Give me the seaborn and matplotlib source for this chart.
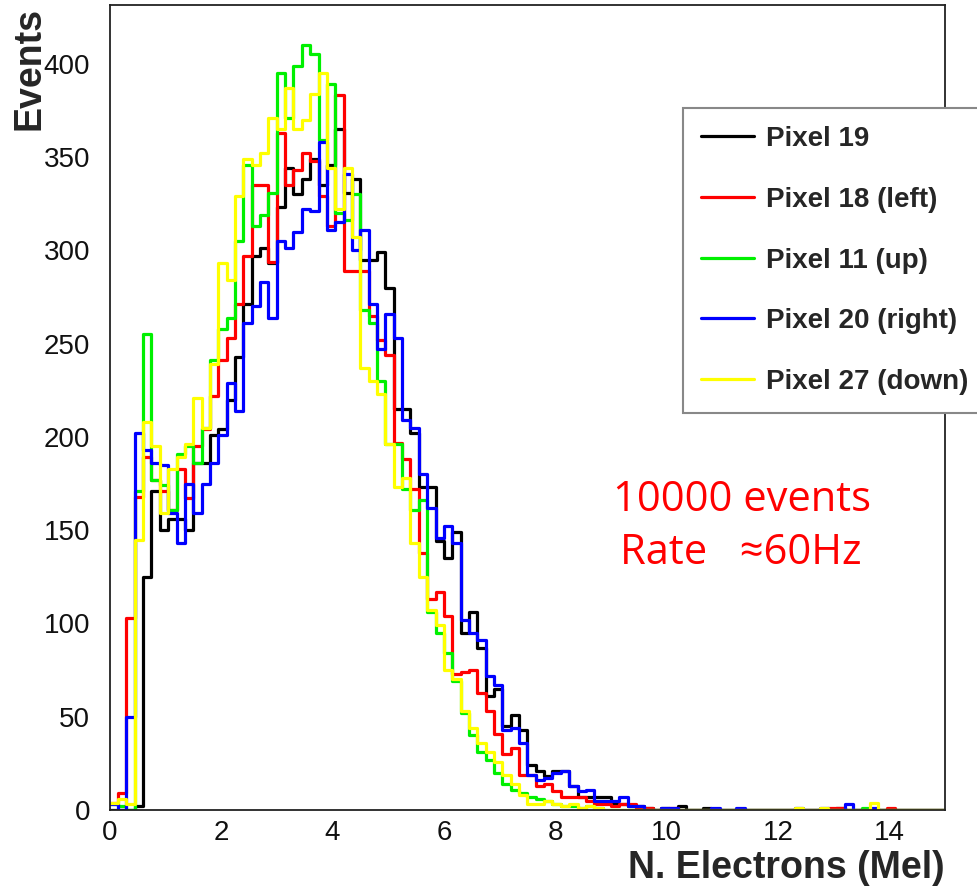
import numpy as np
import pandas as pd
import matplotlib
matplotlib.use("Agg")
import matplotlib.pyplot as plt
import seaborn as sns
from matplotlib.lines import Line2D
from matplotlib.ticker import MultipleLocator

# ---------------- data (100 bins of 0.15 Mel from 0 to 15) ----------------
bin_width = 0.15
n_bins = 100

pixel19 = [0, 0, 0, 2, 125, 171, 150, 156, 156, 150,
           186, 186, 201, 204, 220, 243, 271, 297, 301, 293,
           323, 344, 330, 338, 349, 335, 346, 365, 331, 338,
           295, 295, 299, 280, 215, 215, 202, 173, 173, 144,
           135, 149, 95, 106, 87, 61, 65, 45, 51, 43,
           24, 21, 18, 21, 21, 13, 7, 7, 7, 7,
           3, 3, 2, 2, 1, 0, 1, 0, 2, 0,
           0, 1, 0, 0, 0, 0, 0, 0, 0, 0,
           0, 0, 0, 0, 0, 0, 0, 1, 0, 0,
           0, 0, 0, 0, 0, 0, 0, 0, 0, 0]

pixel18 = [4, 9, 103, 168, 189, 177, 171, 161, 183, 167,
           195, 204, 222, 241, 253, 271, 297, 335, 335, 294,
           363, 335, 343, 352, 348, 329, 313, 383, 289, 289,
           289, 265, 252, 244, 197, 188, 172, 138, 113, 117,
           104, 73, 74, 75, 63, 53, 41, 30, 33, 19,
           19, 13, 14, 10, 7, 7, 7, 5, 3, 3,
           2, 3, 3, 1, 1, 0, 0, 1, 0, 0,
           0, 0, 0, 0, 0, 0, 0, 0, 0, 0,
           0, 0, 0, 0, 0, 0, 1, 1, 0, 0,
           0, 0, 0, 1, 0, 0, 0, 0, 0, 0]

pixel11 = [3, 2, 0, 171, 255, 177, 174, 161, 191, 195,
           186, 205, 241, 258, 264, 305, 346, 313, 319, 331,
           395, 371, 399, 410, 405, 359, 389, 320, 316, 330,
           268, 261, 230, 196, 196, 172, 161, 166, 106, 95,
           84, 69, 52, 40, 31, 27, 20, 14, 11, 9,
           7, 6, 5, 3, 2, 2, 1, 2, 1, 0,
           0, 0, 0, 0, 0, 0, 0, 0, 0, 0,
           0, 0, 0, 0, 0, 0, 0, 0, 0, 0,
           0, 0, 0, 0, 0, 0, 0, 0, 0, 0,
           1, 0, 0, 0, 0, 0, 0, 0, 0, 0]

pixel20 = [3, 0, 50, 202, 193, 186, 185, 159, 143, 175,
           159, 175, 186, 201, 229, 214, 261, 270, 283, 264,
           305, 301, 310, 322, 321, 358, 311, 315, 341, 300,
           311, 271, 247, 266, 253, 209, 205, 180, 162, 146,
           152, 143, 102, 95, 91, 72, 67, 43, 44, 36,
           19, 16, 17, 20, 21, 13, 10, 11, 5, 5,
           5, 7, 2, 2, 0, 0, 1, 1, 0, 0,
           0, 0, 1, 0, 0, 1, 0, 0, 0, 0,
           0, 0, 1, 0, 0, 1, 0, 0, 3, 0,
           0, 1, 0, 0, 0, 0, 0, 0, 0, 0]

pixel27 = [4, 6, 3, 145, 208, 195, 159, 183, 189, 196,
           221, 205, 239, 293, 284, 329, 349, 346, 352, 371,
           365, 387, 365, 370, 384, 395, 344, 322, 344, 307,
           237, 230, 223, 196, 173, 178, 143, 125, 107, 99,
           75, 70, 53, 44, 36, 31, 26, 19, 14, 8,
           3, 3, 5, 3, 2, 3, 1, 2, 1, 0,
           0, 0, 0, 0, 0, 0, 0, 0, 0, 0,
           0, 0, 0, 0, 0, 0, 0, 0, 0, 0,
           0, 0, 1, 0, 0, 1, 0, 0, 0, 0,
           0, 4, 0, 0, 0, 0, 0, 0, 0, 0]

labels = ["Pixel 19", "Pixel 18 (left)", "Pixel 11 (up)",
          "Pixel 20 (right)", "Pixel 27 (down)"]
colors = ["#000000", "#ff0000", "#00f000", "#0000ff", "#ffff00"]
y_ticks = [0, 50, 100, 150, 200, 250, 300, 350, 400]
x_ticks = [0, 2, 4, 6, 8, 10, 12, 14]

# ---------------- plotting ----------------
sns.set_style("white")
plt.rcParams["font.family"] = ["Liberation Sans", "DejaVu Sans"]

fig = plt.figure(figsize=(9.78, 8.93), dpi=100)
ax = fig.add_axes([0.1122, 0.0929, 0.8541, 0.9015])

centers = (np.arange(n_bins) + 0.5) * bin_width

for counts, color in zip([pixel19, pixel18, pixel11, pixel20, pixel27], colors):
    df = pd.DataFrame({"x": centers, "w": np.asarray(counts, dtype=float)})
    sns.histplot(data=df, x="x", weights="w", binwidth=bin_width,
                 binrange=(0, n_bins * bin_width), element="step",
                 fill=False, color=color, linewidth=2.3, ax=ax)

ax.set_xlim(0, 15)
ax.set_ylim(0, 431.5)
ax.set_xticks(x_ticks)
ax.set_yticks(y_ticks)
ax.xaxis.set_minor_locator(MultipleLocator(0.5))
ax.yaxis.set_minor_locator(MultipleLocator(10))
ax.tick_params(which="both", direction="in", top=False, right=False,
               color="#333333", width=1.2, labelsize=20, labelcolor="#111111")
ax.tick_params(which="major", length=18)
ax.tick_params(which="minor", length=9)
ax.tick_params(axis="y", pad=14)
ax.tick_params(axis="x", pad=7)
for s in ax.spines.values():
    s.set_color("#222222")
    s.set_linewidth(1.3)

ax.set_ylabel("Events", fontsize=27, fontweight="bold", loc="top")
ax.yaxis.set_label_coords(-0.074, 0.998)
ax.set_xlabel("N. Electrons (Mel)", fontsize=27, fontweight="bold", loc="right")
ax.xaxis.set_label_coords(1.0, -0.05)

handles = [Line2D([], [], color=c, lw=2.3) for c in colors]
leg = fig.legend(handles, labels, loc="upper left",
                 bbox_to_anchor=(683 / 978, 1 - 108 / 893, 0.33, 0.0), mode="expand",
                 borderaxespad=0.0,
                 frameon=True, fancybox=False, framealpha=1,
                 edgecolor="#888888", prop=dict(weight="bold", size=20),
                 handlelength=1.9, labelspacing=1.25, borderpad=0.65,
                 handletextpad=0.45)
leg.get_frame().set_linewidth(1.5)

fig.text(742 / 978, 1 - 500 / 893, "10000 events", color="red", fontsize=30,
         ha="center", va="center", family=["Open Sans", "DejaVu Sans"])
fig.text(741 / 978, 1 - 553 / 893, "Rate   \u224860Hz", color="red", fontsize=30,
         ha="center", va="center", family=["Open Sans", "DejaVu Sans"])

fig.savefig("out.png", dpi=100)
